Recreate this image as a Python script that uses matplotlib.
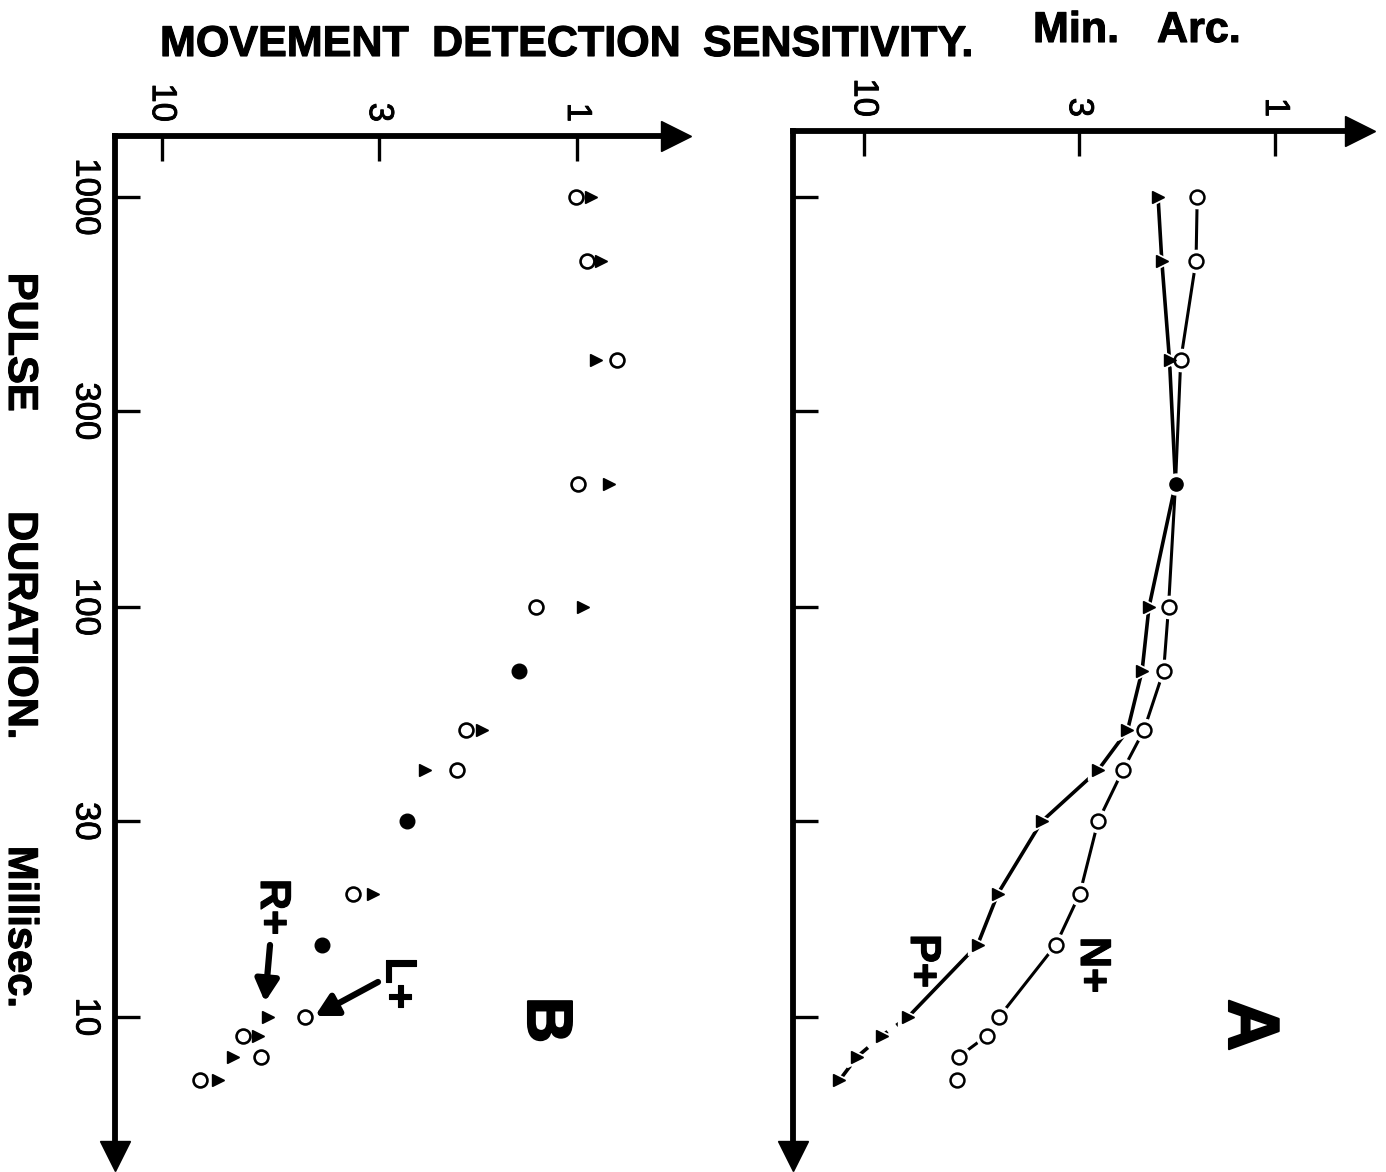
import matplotlib
matplotlib.use('Agg')
import matplotlib.pyplot as plt
import matplotlib.patheffects as pe
from matplotlib.ticker import FixedLocator, NullLocator, FixedFormatter

plt.rcParams['font.family'] = ['Liberation Sans', 'DejaVu Sans']

# ---------------- data ----------------
x_ticks = [10, 3, 1]
x_tick_labels = ['10', '3', '1']
y_ticks = [1000, 300, 100, 30, 10]
y_tick_labels = ['1000', '300', '100', '30', '10']

# Panel A : N+ (open circles) and P+ (triangles); 200 ms point shared (filled)
dur_A = [1000, 700, 400, 200, 100, 70, 50, 40, 30, 20, 15, 10, 9, 8, 7]
sens_A_N = [1.55, 1.56, 1.70, 1.75, 1.82, 1.87, 2.09, 2.35, 2.70, 2.99, 3.42, 4.70, 5.03, 5.89, 5.95]
sens_A_P = [1.93, 1.89, 1.81, 1.75, 2.03, 2.11, 2.29, 2.70, 3.70, 4.73, 5.30, 7.82, 9.06, 10.4, 11.5]
dur_A_both = [200]
sens_A_both = [1.75]

# Panel B : L+ (open circles), R+ (triangles), coincident points (filled)
dur_B = [1000, 700, 400, 200, 100, 50, 40, 20, 10, 9, 8, 7]
sens_B_L = [1.01, 0.95, 0.805, 0.995, 1.26, 1.86, 1.95, 3.48, 4.54, 6.38, 5.80, 8.1]
sens_B_R = [0.93, 0.877, 0.90, 0.84, 0.97, 1.70, 2.33, 3.11, 5.56, 5.89, 6.77, 7.36]
dur_B_both = [70, 30, 15]
sens_B_both = [1.38, 2.57, 4.13]

# ---------------- figure ----------------
W, H = 1386, 1172
fig = plt.figure(figsize=(W / 100, H / 100), dpi=100)


def rect(l, t, r, b):
    return [l / W, 1 - b / H, (r - l) / W, (b - t) / H]


axA = fig.add_axes(rect(793, 131, 1360, 1156))
axB = fig.add_axes(rect(115, 136, 676, 1156))

ink = [pe.withStroke(linewidth=0.6, foreground='k')]
ink2 = [pe.withStroke(linewidth=0.8, foreground='k')]


def setup(ax, xlim, ylim, show_ylabels):
    ax.set_xscale('log')
    ax.set_yscale('log')
    ax.set_xlim(*xlim)
    ax.set_ylim(*ylim)
    ax.patch.set_visible(False)
    for s in ['right', 'bottom']:
        ax.spines[s].set_visible(False)
    for s in ['left', 'top']:
        ax.spines[s].set_linewidth(4.2)
    ax.xaxis.set_ticks_position('top')
    ax.xaxis.set_major_locator(FixedLocator(x_ticks))
    ax.xaxis.set_minor_locator(NullLocator())
    ax.xaxis.set_major_formatter(FixedFormatter(x_tick_labels))
    ax.yaxis.set_major_locator(FixedLocator(y_ticks))
    ax.yaxis.set_minor_locator(NullLocator())
    ax.yaxis.set_major_formatter(FixedFormatter(y_tick_labels if show_ylabels else [''] * 5))
    ax.tick_params(axis='x', which='major', direction='in', length=18, width=2.4,
                   pad=10, labelsize=25, labelrotation=-90)
    ax.tick_params(axis='y', which='major', direction='in', length=18, width=2.4,
                   pad=9, labelsize=25, labelrotation=-90)
    for lab in ax.get_yticklabels() + ax.get_xticklabels():
        lab.set_path_effects(ink)
    for lab in ax.get_yticklabels():
        lab.set_va('center')
    # arrow heads
    ax.plot([1], [1], transform=ax.transAxes, marker='>', ms=22, color='k', clip_on=False)
    ax.plot([0], [0], transform=ax.transAxes, marker='v', ms=22, color='k', clip_on=False)


setup(axA, (14.9, 0.623), (4.58, 1449), False)
setup(axB, (13.0, 0.579), (4.58, 1409), True)

halo = dict(color='white', linestyle='none', zorder=3)

# Panel A lines
axA.plot(sens_A_N, dur_A, color='k', lw=2.2, zorder=2)
axA.plot(sens_A_P[:12], dur_A[:12], color='k', lw=2.6, zorder=2)
axA.plot(sens_A_P[11:], dur_A[11:], color='k', lw=2.6, zorder=2, dashes=(4, 3))
mask = [d not in dur_A_both for d in dur_A]
sNm = [s for s, m in zip(sens_A_N, mask) if m]
sPm = [s for s, m in zip(sens_A_P, mask) if m]
dm = [d for d, m in zip(dur_A, mask) if m]
axA.plot(sNm, dm, marker='o', ms=16, **halo)
axA.plot(sPm, dm, marker='>', ms=15, **halo)
axA.plot(sNm, dm, marker='o', ms=10, mfc='white', mec='k', mew=1.8, ls='none', zorder=4)
axA.plot(sPm, dm, marker='>', ms=9, color='k', ls='none', zorder=4)
axA.plot(sens_A_both, dur_A_both, marker='o', ms=15, **halo)
axA.plot(sens_A_both, dur_A_both, marker='o', ms=9.5, color='k', ls='none', zorder=4)

# Panel B markers
axB.plot(sens_B_L, dur_B, marker='o', ms=10, mfc='white', mec='k', mew=1.9, ls='none', zorder=4)
axB.plot(sens_B_R, dur_B, marker='>', ms=9, color='k', ls='none', zorder=4)
axB.plot(sens_B_both, dur_B_both, marker='o', ms=10.5, color='k', ls='none', zorder=4)

# ---------------- text ----------------
def ftext(x, y, s, **kw):
    return fig.text(x / W, 1 - y / H, s, **kw)

tkw = dict(fontsize=31, fontweight='bold', va='baseline', ha='left', path_effects=ink2)
ftext(160, 56, 'MOVEMENT', **tkw)
ftext(432, 56, 'DETECTION', **tkw)
ftext(703, 56, 'SENSITIVITY.', **tkw)
ftext(1033, 42, 'Min.', **tkw)
ftext(1157, 42, 'Arc.', **tkw)

ykw = dict(fontsize=30, fontweight='bold', rotation=-90, ha='center', va='center',
           path_effects=ink2)
ftext(20, 342, 'PULSE', **ykw)
ftext(20, 625, 'DURATION.', **ykw)
ftext(20, 927, 'Millisec.', **ykw)

lkw = dict(fontsize=31, fontweight='bold', rotation=-90, ha='center', va='center',
           path_effects=ink2)
ftext(1092, 965, 'N+', **lkw)
ftext(922, 961, 'P+', **lkw)
ftext(272, 907, 'R+', **lkw)
ftext(397, 983, 'L+', **lkw)
ftext(1248, 1025, 'A', fontsize=52, fontweight='heavy', rotation=-90, ha='center',
      va='center', path_effects=[pe.withStroke(linewidth=1.5, foreground='k')])
ftext(545, 1020, 'B', fontsize=46, fontweight='heavy', rotation=-90, ha='center',
      va='center', path_effects=[pe.withStroke(linewidth=1.5, foreground='k')])

# pointer arrows for R+ and L+
akw = dict(arrowstyle='-|>,head_length=1.3,head_width=0.7', lw=4.5, color='k',
           shrinkA=0, shrinkB=0)
fig.add_artist(matplotlib.patches.FancyArrowPatch(
    posA=(270 / W, 1 - 945 / H), posB=(265 / W, 1 - 1002 / H),
    transform=fig.transFigure, mutation_scale=10, **akw))
fig.add_artist(matplotlib.patches.FancyArrowPatch(
    posA=(378 / W, 1 - 982 / H), posB=(315 / W, 1 - 1016 / H),
    transform=fig.transFigure, mutation_scale=10, **akw))

fig.savefig('out.png', dpi=100, facecolor='white')
